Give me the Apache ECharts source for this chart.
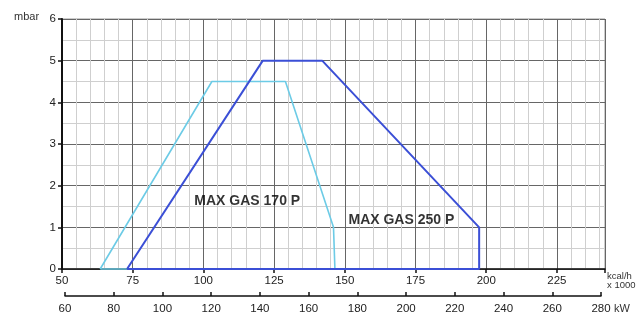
<!DOCTYPE html>
<html>
<head>
<meta charset="utf-8">
<script src="https://cdn.jsdelivr.net/npm/echarts@6/dist/echarts.min.js"></script>
<style>
  html, body { margin: 0; padding: 0; background: #fff; }
  #main { width: 636px; height: 316px; }
</style>
</head>
<body>
<div id="main"></div>
<script>
// kcal/h x 1000 -> mbar
var gas170 = [[63.5, 0], [103, 4.5], [129, 4.5], [146, 1], [146.5, 0], [63.5, 0]];
var gas250 = [[73, 0], [121, 5], [142, 5], [197.5, 1], [197.5, 0], [73, 0]];
var seriesNames = ['MAX GAS 170 P', 'MAX GAS 250 P'];
// label anchor points (data coords)
var labelPos = [[115.5, 1.63], [170, 1.18]];
var kcalTicks = [50, 75, 100, 125, 150, 175, 200, 225];
var kwTicks = [60, 80, 100, 120, 140, 160, 180, 200, 220, 240, 260, 280];

var myChart = echarts.init(document.getElementById('main'));
var labelFont = { color: '#222', fontSize: 11.5, fontFamily: 'Liberation Sans, Arial, sans-serif' };

var option = {
    backgroundColor: '#fff',
    animation: false,
    grid: [
        { left: 62, right: 31, top: 19, bottom: 47, show: true, borderColor: '#999', borderWidth: 1 },
        { left: 65, right: 35, top: 295, height: 1 }
    ],
    xAxis: [
        {
            type: 'value', gridIndex: 0, min: 50, max: 242, interval: 25,
            axisLine: { show: true, onZero: false, lineStyle: { color: '#111', width: 1.5 } },
            axisTick: { show: true, length: 4, inside: false, lineStyle: { color: '#111', width: 1.5 } },
            axisLabel: Object.assign({ margin: 6, showMaxLabel: false,
                formatter: function (v) { return kcalTicks.indexOf(v) >= 0 ? v : ''; } }, labelFont),
            splitLine: { show: true, lineStyle: { color: '#666', width: 1 } },
            minorTick: { show: true, splitNumber: 5, length: 0 },
            minorSplitLine: { show: true, lineStyle: { color: '#cfcfcf', width: 1 } }
        },
        {
            type: 'value', gridIndex: 1, min: 60, max: 280, interval: 20,
            axisLine: { show: true, lineStyle: { color: '#111', width: 1.5 } },
            axisTick: { show: true, length: 4, inside: true, lineStyle: { color: '#111', width: 1.5 } },
            axisLabel: Object.assign({ margin: 7,
                formatter: function (v) { return kwTicks.indexOf(v) >= 0 ? v : ''; } }, labelFont),
            splitLine: { show: false }
        }
    ],
    yAxis: [
        {
            type: 'value', gridIndex: 0, min: 0, max: 6, interval: 1,
            axisLine: { show: true, lineStyle: { color: '#111', width: 2 } },
            axisTick: { show: true, length: 4, lineStyle: { color: '#111', width: 1.5 } },
            axisLabel: Object.assign({ margin: 6 }, labelFont),
            splitLine: { show: true, lineStyle: { color: '#666', width: 1 } },
            minorTick: { show: true, splitNumber: 2, length: 0 },
            minorSplitLine: { show: true, lineStyle: { color: '#cfcfcf', width: 1 } }
        },
        { type: 'value', gridIndex: 1, show: false }
    ],
    series: [
        {
            name: seriesNames[0], type: 'line', data: gas170, showSymbol: false,
            clip: false, lineStyle: { color: '#6ccbe6', width: 1.6 }, z: 3
        },
        {
            name: seriesNames[1], type: 'line', data: gas250, showSymbol: false,
            clip: false, lineStyle: { color: '#3b4fd6', width: 2 }, z: 4
        },
        {
            type: 'scatter', symbolSize: 0, z: 5,
            data: labelPos.map(function (p, i) { return { value: p, name: seriesNames[i] }; }),
            label: {
                show: true, position: 'inside', formatter: '{b}',
                color: '#000', fontWeight: 'bold', fontSize: 14,
                fontFamily: 'Liberation Sans, Arial, sans-serif'
            }
        }
    ],
    graphic: [
        { type: 'text', left: 14, top: 11, style: { text: 'mbar', fill: '#333', font: '11px Liberation Sans, Arial, sans-serif' } },
        { type: 'text', left: 607, top: 271, style: { text: 'kcal/h\nx 1000', fill: '#333', font: '9.5px Liberation Sans, Arial, sans-serif', lineHeight: 9 } },
        { type: 'text', left: 614, top: 303, style: { text: 'kW', fill: '#333', font: '11px Liberation Sans, Arial, sans-serif' } }
    ]
};
myChart.setOption(option);
</script>
</body>
</html>
